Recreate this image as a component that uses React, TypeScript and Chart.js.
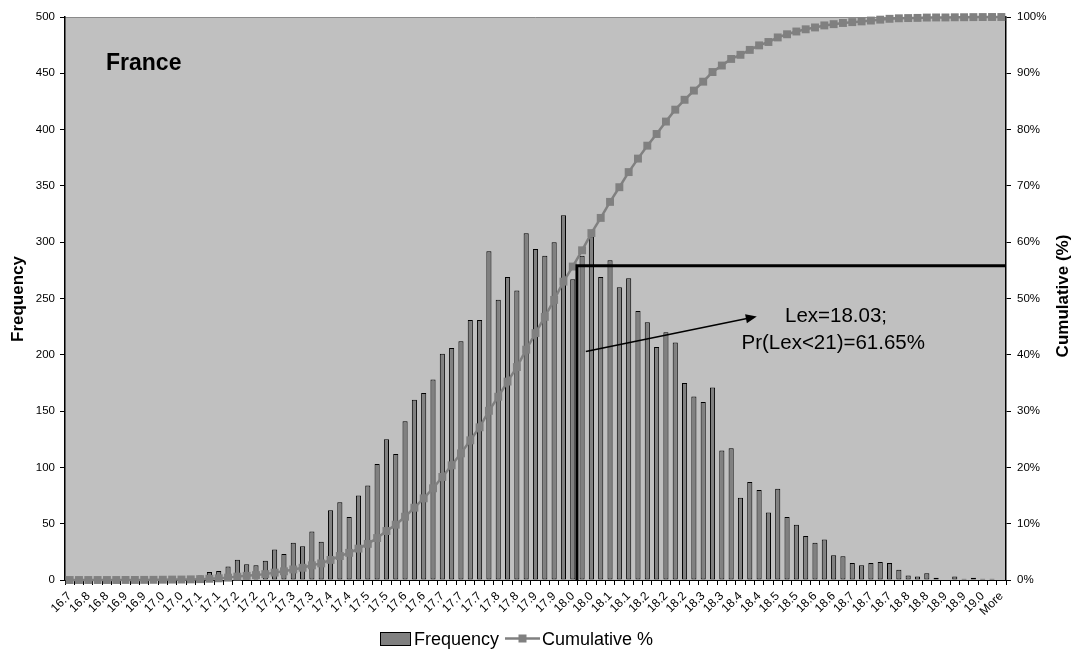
import React, { useEffect, useRef } from "react";
import { Chart, registerables } from "chart.js";

Chart.register(...registerables);

// Histogram bins (upper bin limits, shown with one decimal) plus the overflow bin.
const binLabels: string[] = [
  "16.7", "16.8", "16.8", "16.8", "16.8", "16.9", "16.9", "16.9", "16.9", "17.0",
  "17.0", "17.0", "17.0", "17.0", "17.1", "17.1", "17.1", "17.1", "17.2", "17.2",
  "17.2", "17.2", "17.2", "17.3", "17.3", "17.3", "17.3", "17.4", "17.4", "17.4",
  "17.4", "17.4", "17.5", "17.5", "17.5", "17.5", "17.6", "17.6", "17.6", "17.6",
  "17.7", "17.7", "17.7", "17.7", "17.7", "17.8", "17.8", "17.8", "17.8", "17.9",
  "17.9", "17.9", "17.9", "17.9", "18.0", "18.0", "18.0", "18.0", "18.1", "18.1",
  "18.1", "18.1", "18.2", "18.2", "18.2", "18.2", "18.2", "18.3", "18.3", "18.3",
  "18.3", "18.4", "18.4", "18.4", "18.4", "18.4", "18.5", "18.5", "18.5", "18.5",
  "18.6", "18.6", "18.6", "18.6", "18.7", "18.7", "18.7", "18.7", "18.7", "18.8",
  "18.8", "18.8", "18.8", "18.9", "18.9", "18.9", "18.9", "18.9", "19.0", "19.0",
  "More",
];

// Number of simulated outcomes falling in each bin.
const frequency: number[] = [
  0, 0, 0, 0, 0, 0, 1, 0, 1, 1,
  2, 2, 1, 3, 4, 7, 8, 12, 18, 14,
  13, 17, 27, 23, 33, 30, 43, 34, 62, 69,
  56, 75, 84, 103, 125, 112, 141, 160, 166, 178,
  201, 206, 212, 231, 231, 292, 249, 269, 257, 308,
  294, 288, 300, 324, 267, 288, 305, 269, 284, 260,
  268, 239, 229, 207, 220, 211, 175, 163, 158, 171,
  115, 117, 73, 87, 80, 60, 81, 56, 49, 39,
  33, 36, 22, 21, 15, 13, 15, 16, 15, 9,
  4, 3, 6, 2, 0, 3, 1, 2, 1, 1, 0,
];

// Running share of all outcomes up to and including each bin.
const total = frequency.reduce((s, v) => s + v, 0);
const cumulativePct: number[] = [];
frequency.reduce((run, v) => {
  const next = run + v;
  cumulativePct.push((next / total) * 100);
  return next;
}, 0);

// Marker for the Lex estimate: position on the bin axis and cumulative level reached.
const lexMarker = { binPosition: 54.45, cumulative: 55.8 };
// Arrow from the marker line to the annotation text (bin position, frequency).
const arrowFrom = { bin: 55.4, freq: 203 };
const arrowTo = { bin: 73.75, freq: 234 };
const annotationLines = ["Lex=18.03;", "Pr(Lex<21)=61.65%"];

const FONT = '"Liberation Sans", Arial, sans-serif';
const BAR_GREY = "#808080";
const PLOT_GREY = "#C0C0C0";

const decorations = {
  id: "decorations",
  beforeDraw(chart: any) {
    const { ctx, chartArea: a } = chart;
    ctx.save();
    ctx.fillStyle = "#ffffff";
    ctx.fillRect(0, 0, chart.width, chart.height);
    ctx.fillStyle = PLOT_GREY;
    ctx.fillRect(a.left, a.top, a.right - a.left, a.bottom - a.top);
    ctx.strokeStyle = "#8a8a8a";
    ctx.lineWidth = 1;
    ctx.beginPath();
    ctx.moveTo(a.left, a.top + 0.5);
    ctx.lineTo(a.right, a.top + 0.5);
    ctx.stroke();
    ctx.restore();
  },
  afterDatasetsDraw(chart: any) {
    const { ctx, chartArea: a, scales } = chart;
    const x = scales.x;
    const y = scales.y;
    const y1 = scales.y1;
    ctx.save();

    // Lex marker: vertical up to the cumulative level, then across to the right axis.
    const mx = x.getPixelForValue(lexMarker.binPosition);
    const my = y1.getPixelForValue(lexMarker.cumulative);
    ctx.strokeStyle = "#000";
    ctx.lineWidth = 3;
    ctx.lineJoin = "miter";
    ctx.beginPath();
    ctx.moveTo(mx, a.bottom);
    ctx.lineTo(mx, my);
    ctx.lineTo(a.right, my);
    ctx.stroke();

    // Arrow towards the annotation.
    const x0 = x.getPixelForValue(arrowFrom.bin);
    const y0 = y.getPixelForValue(arrowFrom.freq);
    const x1 = x.getPixelForValue(arrowTo.bin);
    const yEnd = y.getPixelForValue(arrowTo.freq);
    const ang = Math.atan2(yEnd - y0, x1 - x0);
    const head = 11;
    ctx.lineWidth = 1.5;
    ctx.beginPath();
    ctx.moveTo(x0, y0);
    ctx.lineTo(x1 - Math.cos(ang) * head * 0.8, yEnd - Math.sin(ang) * head * 0.8);
    ctx.stroke();
    ctx.fillStyle = "#000";
    ctx.beginPath();
    ctx.moveTo(x1, yEnd);
    ctx.lineTo(x1 - Math.cos(ang) * head + Math.sin(ang) * 4.5, yEnd - Math.sin(ang) * head - Math.cos(ang) * 4.5);
    ctx.lineTo(x1 - Math.cos(ang) * head - Math.sin(ang) * 4.5, yEnd - Math.sin(ang) * head + Math.cos(ang) * 4.5);
    ctx.closePath();
    ctx.fill();

    // Annotation text.
    ctx.fillStyle = "#000";
    ctx.font = `20.5px ${FONT}`;
    ctx.textAlign = "left";
    ctx.textBaseline = "alphabetic";
    ctx.fillText(annotationLines[0], 785, 322);
    ctx.fillText(annotationLines[1], 741.5, 349);

    ctx.restore();
  },
  afterDraw(chart: any) {
    const { ctx } = chart;
    ctx.save();
    ctx.fillStyle = "#000";

    // Panel title.
    ctx.font = `bold 23px ${FONT}`;
    ctx.textAlign = "left";
    ctx.textBaseline = "alphabetic";
    ctx.fillText("France", 106, 70);

    // Axis titles.
    ctx.font = `bold 17px ${FONT}`;
    ctx.textAlign = "center";
    ctx.textBaseline = "middle";
    ctx.save();
    ctx.translate(18.5, 299);
    ctx.rotate(-Math.PI / 2);
    ctx.fillText("Frequency", 0, 0);
    ctx.restore();
    ctx.save();
    ctx.translate(1063, 296);
    ctx.rotate(-Math.PI / 2);
    ctx.fillText("Cumulative (%)", 0, 0);
    ctx.restore();

    // Legend.
    ctx.fillStyle = BAR_GREY;
    ctx.fillRect(380, 632, 30, 13);
    ctx.strokeStyle = "#000";
    ctx.lineWidth = 1;
    ctx.strokeRect(380.5, 632.5, 30, 13);
    ctx.fillStyle = "#000";
    ctx.font = `18px ${FONT}`;
    ctx.textAlign = "left";
    ctx.textBaseline = "alphabetic";
    ctx.fillText("Frequency", 414, 645);
    ctx.strokeStyle = BAR_GREY;
    ctx.lineWidth = 2.5;
    ctx.beginPath();
    ctx.moveTo(505, 638.5);
    ctx.lineTo(540, 638.5);
    ctx.stroke();
    ctx.fillStyle = BAR_GREY;
    ctx.fillRect(518.5, 634.5, 8, 8);
    ctx.fillStyle = "#000";
    ctx.fillText("Cumulative %", 542, 645);

    ctx.restore();
  },
};

export default function App() {
  const canvasRef = useRef<HTMLCanvasElement>(null);

  useEffect(() => {
    const canvas = canvasRef.current;
    if (!canvas) return;
    const tickFont = { family: FONT, size: 11.5 };
    const chart = new Chart(canvas, {
      type: "bar",
      data: {
        labels: binLabels,
        datasets: [
          {
            type: "line",
            label: "Cumulative %",
            data: cumulativePct,
            yAxisID: "y1",
            borderColor: BAR_GREY,
            backgroundColor: BAR_GREY,
            borderWidth: 2.5,
            pointStyle: "rect",
            pointRadius: 5.6,
            pointBorderWidth: 0,
            pointBackgroundColor: BAR_GREY,
            tension: 0,
            clip: false,
            order: 0,
          } as any,
          {
            type: "bar",
            label: "Frequency",
            data: frequency,
            yAxisID: "y",
            backgroundColor: BAR_GREY,
            borderColor: "#000",
            borderWidth: 1,
            borderSkipped: false,
            categoryPercentage: 1,
            barPercentage: 0.55,
            order: 1,
          } as any,
        ],
      },
      options: {
        responsive: false,
        animation: false,
        layout: { padding: { top: 17, left: 0, right: 0, bottom: 0 } },
        plugins: {
          legend: { display: false },
          tooltip: { enabled: false },
        },
        scales: {
          x: {
            type: "category",
            offset: true,
            grid: {
              display: true,
              drawOnChartArea: false,
              drawTicks: true,
              tickLength: 5,
              color: "#000",
              offset: true,
            },
            border: { color: "#000", width: 1 },
            ticks: {
              autoSkip: false,
              minRotation: 45,
              maxRotation: 45,
              padding: 4,
              color: "#000",
              font: { family: FONT, size: 12 },
              callback: (_v: any, i: number) => (i % 2 === 0 ? binLabels[i] : ""),
            },
            afterFit: (s: any) => {
              s.height = 71;
            },
          },
          y: {
            position: "left",
            min: 0,
            max: 500,
            grid: { drawOnChartArea: false, tickLength: 5, color: "#000" },
            border: { color: "#000", width: 1.5 },
            ticks: { stepSize: 50, padding: 5, color: "#000", font: tickFont },
            afterFit: (s: any) => {
              s.width = 65;
            },
          },
          y1: {
            position: "right",
            min: 0,
            max: 100,
            grid: { drawOnChartArea: false, tickLength: 5, color: "#000" },
            border: { color: "#000", width: 1.5 },
            ticks: {
              stepSize: 10,
              padding: 6,
              color: "#000",
              font: tickFont,
              callback: (v: any) => `${v}%`,
            },
            afterFit: (s: any) => {
              s.width = 69;
            },
          },
        },
      } as any,
      plugins: [decorations],
    });
    return () => chart.destroy();
  }, []);

  return (
    <div style={{ position: "absolute", left: 0, top: 0, width: 1075, height: 651 }}>
      <canvas
        ref={canvasRef}
        width={1075}
        height={651}
        style={{ display: "block", width: 1075, height: 651 }}
      />
    </div>
  );
}
